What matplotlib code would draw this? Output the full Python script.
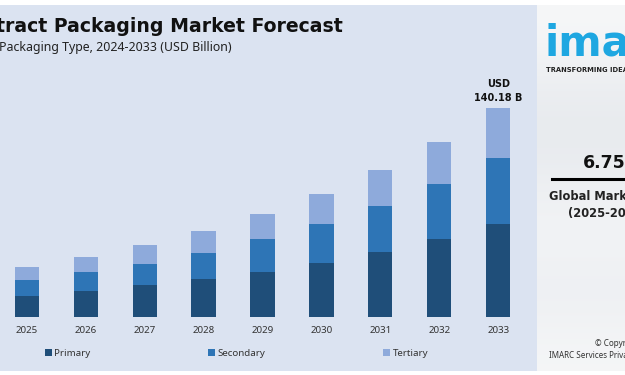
import matplotlib
matplotlib.use("Agg")
import matplotlib.pyplot as plt
from matplotlib.patches import Rectangle
from matplotlib.lines import Line2D
from matplotlib.colors import LinearSegmentedColormap
import numpy as np

plt.rcParams['font.family'] = ['Noto Sans', 'DejaVu Sans']

years = ['2025', '2026', '2027', '2028', '2029', '2030', '2031', '2032', '2033']
primary = [14.1, 17.4, 21.2, 25.4, 30.1, 36.4, 43.5, 52.0, 62.1]
secondary = [10.7, 12.7, 14.5, 17.6, 21.9, 25.9, 30.6, 36.8, 44.2]
tertiary = [8.5, 10.0, 12.5, 14.5, 16.9, 20.1, 24.1, 28.5, 33.9]
series_names = ['Primary', 'Secondary', 'Tertiary']
colors = ['#1f4e79', '#2e75b6', '#8eaadb']
total_label = 'USD\n140.18 B'

W, H = 625, 375
BOLD = 'DejaVu Sans'
fig = plt.figure(figsize=(6.25, 3.75), dpi=100)
fig.patch.set_facecolor('white')

# left panel background
fig.patches.append(Rectangle((0, 4 / H), 537 / W, 366 / H, transform=fig.transFigure,
                             facecolor='#dbe3f1', edgecolor='none', zorder=-5))

# bar axes
ax = fig.add_axes([0, 58 / H, 537 / W, (370 - 58) / H])
ax.set_facecolor('none')
x = np.arange(len(years))
p = np.array(primary)
s = np.array(secondary)
t = np.array(tertiary)
b1 = ax.bar(x, p, width=0.41, color=colors[0], label=series_names[0])
b2 = ax.bar(x, s, width=0.41, bottom=p, color=colors[1], label=series_names[1])
b3 = ax.bar(x, t, width=0.41, bottom=p + s, color=colors[2], label=series_names[2])
ax.set_xlim(-0.453, 8.657)
ax.set_ylim(0, 208.9)
for sp in ax.spines.values():
    sp.set_visible(False)
ax.set_yticks([])
ax.set_xticks(x)
ax.set_xticklabels(years, fontsize=7, color='#333333')
ax.tick_params(axis='x', length=0, pad=6.5)

tot = p + s + t
ax.annotate(total_label, (x[-1], tot[-1]), xytext=(0, 3), textcoords='offset points',
            ha='center', va='bottom', fontsize=7, fontweight='bold', family=BOLD,
            color='#111111', linespacing=1.6)

fig.legend(handles=[b1, b2, b3], labels=series_names, loc='center',
           bbox_to_anchor=(236.5 / W, (375 - 353) / H), ncol=3, frameon=False,
           fontsize=7, handlelength=0.72, handleheight=0.72, handletextpad=0.25,
           columnspacing=12.1, labelcolor='#333333')

# titles
fig.text(-4 / W, 1 - 26 / H, 'tract Packaging Market Forecast', fontsize=13.6,
         fontweight='bold', family=BOLD, color='#111111', ha='left', va='center')
fig.text(-1 / W, 1 - 48 / H, 'Packaging Type, 2024-2033 (USD Billion)', fontsize=8.9,
         color='#222222', ha='left', va='center')

# right panel
rx = fig.add_axes([537 / W, 4 / H, 88 / W, 366 / H])
rx.set_xlim(0, 1)
rx.set_ylim(0, 1)
rx.axis('off')
grad = np.array([0.0, 0.6, 1.0, 0.5, 0.2, 0.6, 0.1]).reshape(-1, 1)
cm = LinearSegmentedColormap.from_list('panel', ['#f6f7f8', '#e6e9ed'])
rx.imshow(grad, extent=(0, 1, 0, 1), aspect='auto', cmap=cm, interpolation='bicubic',
          zorder=0)


def rpx(px, py):
    return (px - 537) / 88, (371 - py) / 366


rx.text(*rpx(545, 55), 'imarc', fontsize=30, fontweight='bold', family=BOLD,
        color='#1ea7e1', ha='left', va='baseline', clip_on=True)
rx.text(*rpx(546, 70), 'TRANSFORMING IDEAS INTO IMPACT', fontsize=4.9, fontweight='bold',
        family=BOLD, color='#222222', ha='left', va='center', clip_on=True)
rx.text(*rpx(583, 163), '6.75%', fontsize=12.5, fontweight='bold', family=BOLD,
        color='#111111', ha='left', va='center', clip_on=True)
rx.add_line(Line2D([rpx(552, 0)[0], 1.1], [rpx(0, 179)[1]] * 2, color='black', lw=2.2,
                   clip_on=True))
rx.text(*rpx(549, 197), 'Global Market Growth Rate', fontsize=8.3, fontweight='bold',
        family=BOLD, color='#222222', ha='left', va='center', clip_on=True)
rx.text(*rpx(568, 213), '(2025-2033)', fontsize=8.3, fontweight='bold', family=BOLD,
        color='#222222', ha='left', va='center', clip_on=True)
rx.text(*rpx(595, 343), '© Copyright 2025', fontsize=5.8, color='#333333',
        ha='left', va='center', clip_on=True)
rx.text(*rpx(549, 355), 'IMARC Services Private Limited', fontsize=5.8, color='#333333',
        ha='left', va='center', clip_on=True)

fig.savefig('out.png', dpi=100)
